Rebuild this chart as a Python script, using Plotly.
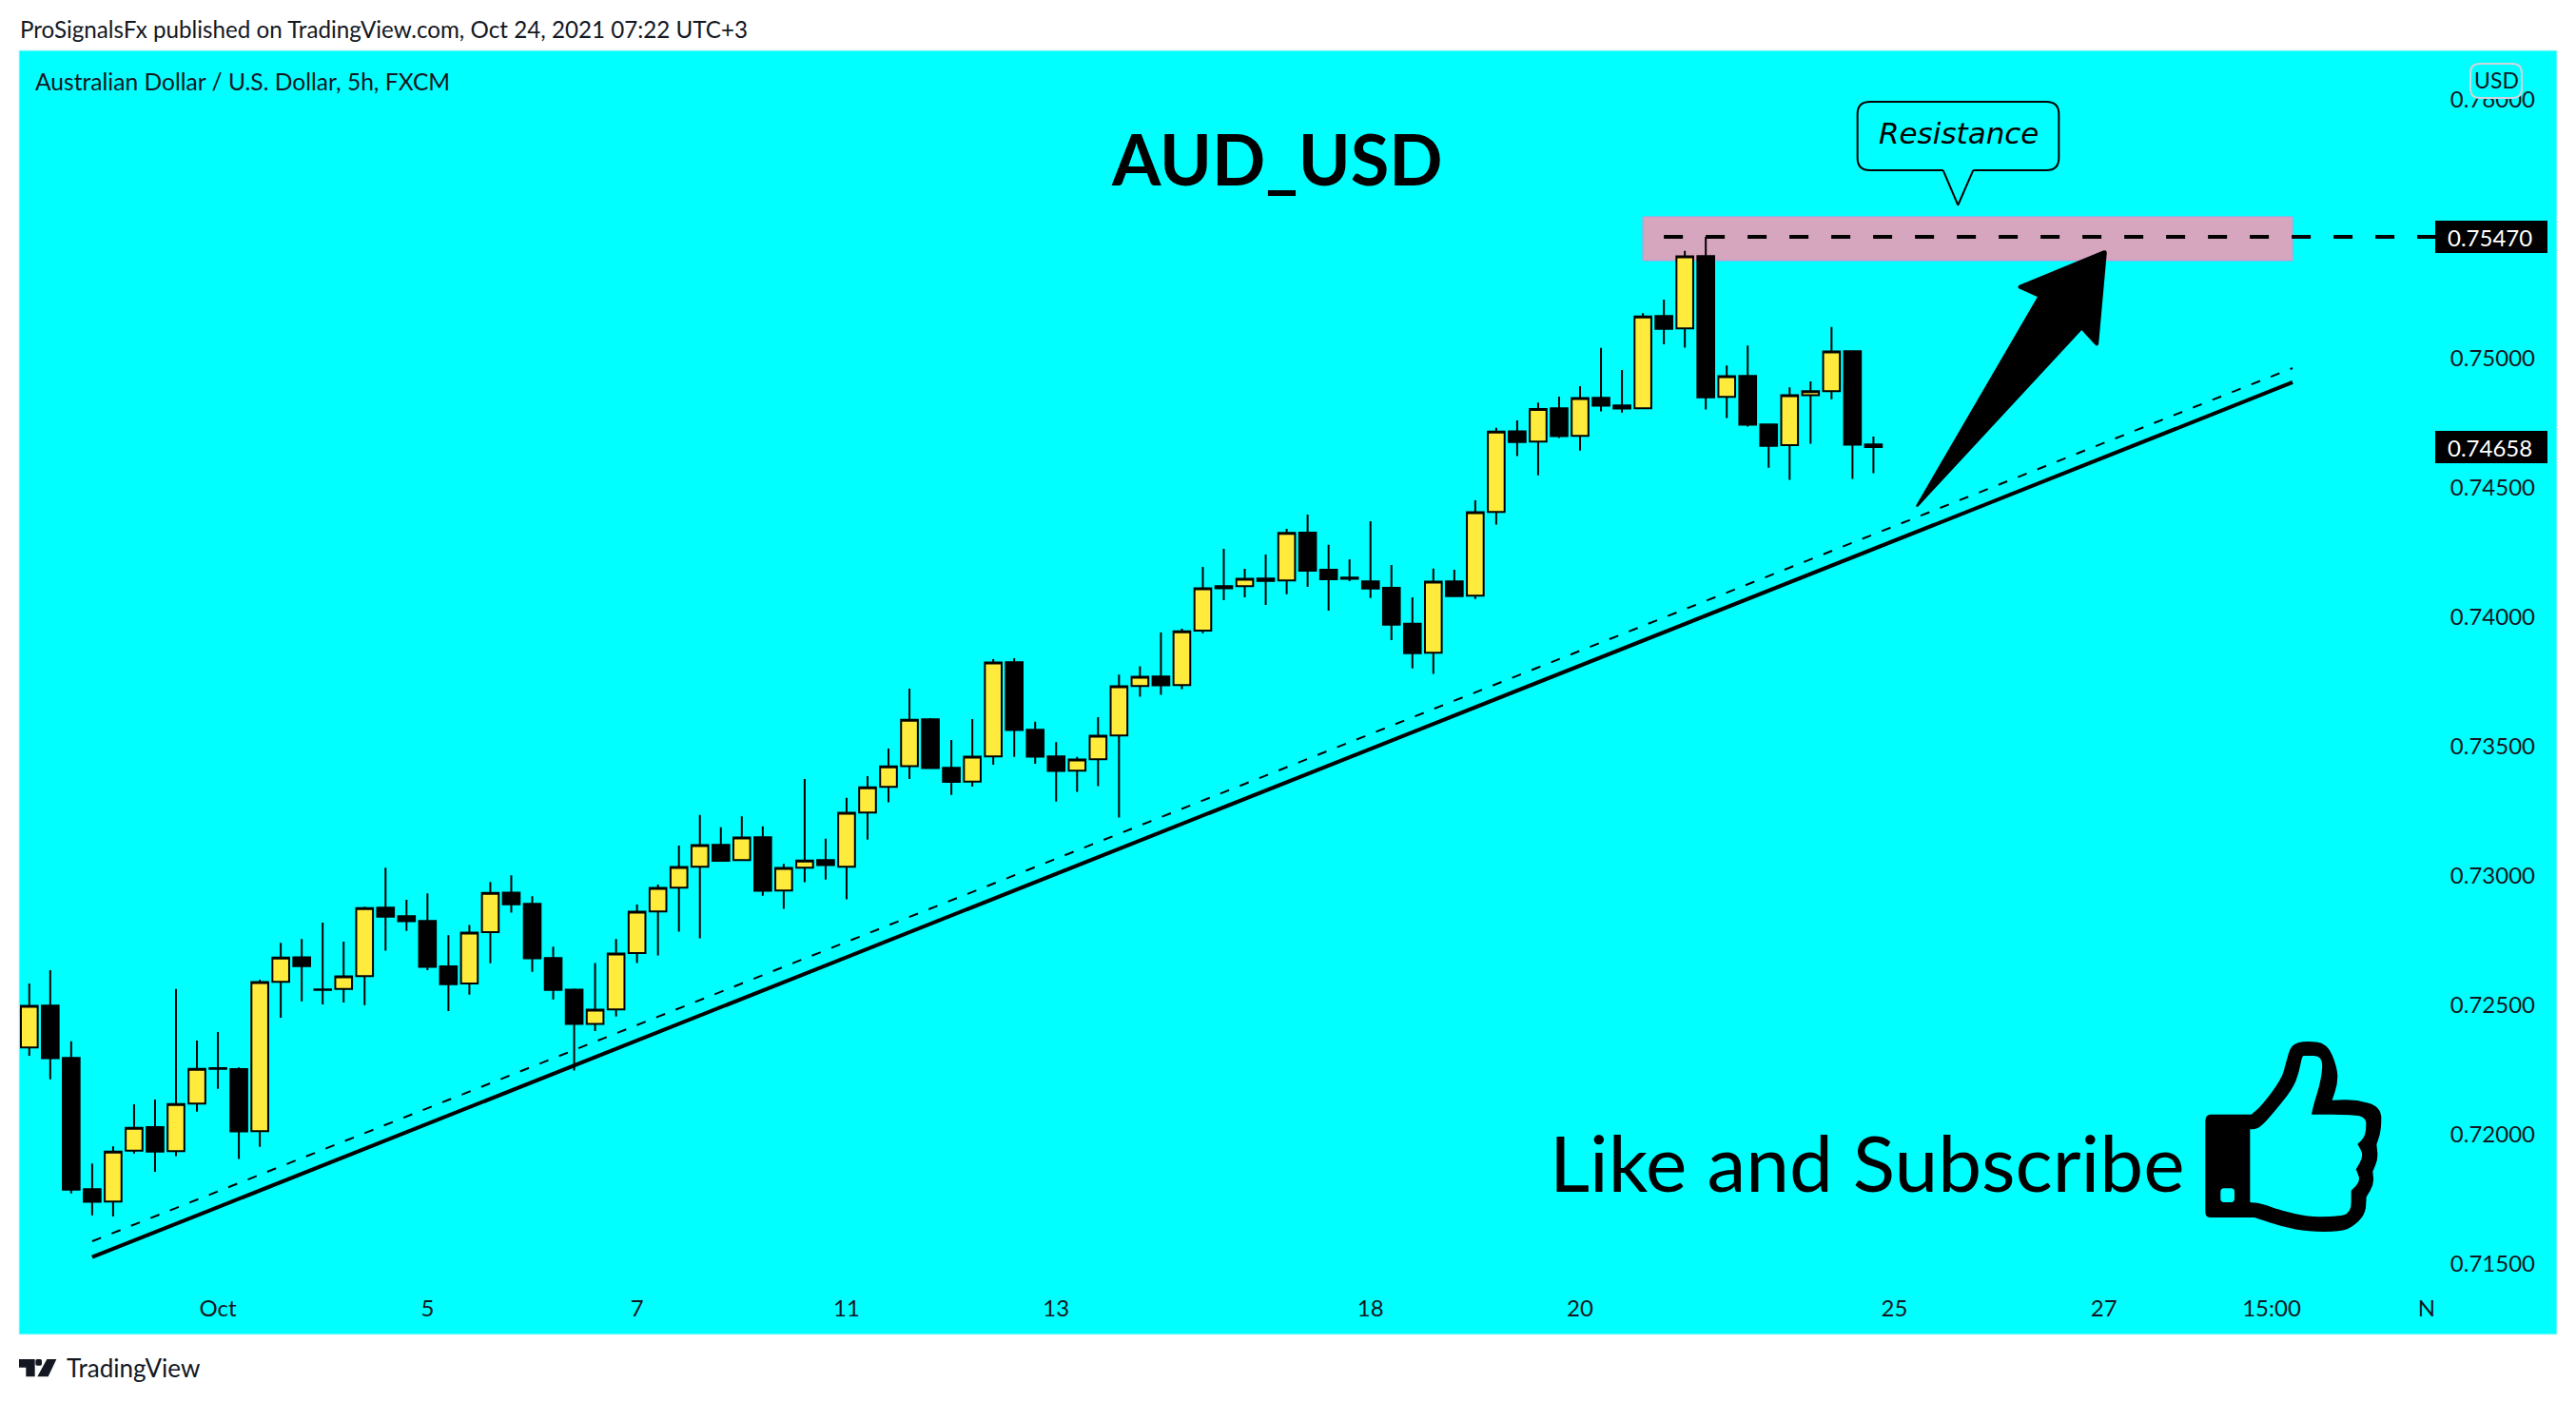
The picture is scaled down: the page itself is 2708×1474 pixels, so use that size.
import math
import plotly.graph_objects as go

# ---- chart data -------------------------------------------------------------
opens = [0.72337,0.72499,0.72297,0.7179,0.71742,0.71938,0.72029,0.71937,0.7212,0.72257,
         0.72254,0.72014,0.72591,0.72686,0.72562,0.72563,0.72613,0.72878,0.72845,0.72826,
         0.72651,0.72585,0.72783,0.72936,0.72892,0.72683,0.72561,0.72428,0.72484,0.72702,
         0.72863,0.72955,0.73036,0.7312,0.73062,0.7315,0.72944,0.73032,0.73062,0.73036,
         0.73245,0.73345,0.73425,0.73606,0.73418,0.73365,0.73462,0.73826,0.73565,0.73462,
         0.73407,0.73451,0.73543,0.73734,0.73771,0.73738,0.73948,0.7412,0.7412,0.7415,
         0.74142,0.74327,0.74184,0.74153,0.74139,0.74114,0.73975,0.73863,0.74139,0.74084,
         0.74407,0.74719,0.74679,0.74808,0.74701,0.74848,0.74819,0.74808,0.75164,0.75117,
         0.75396,0.74852,0.74933,0.74745,0.74665,0.74858,0.74874,0.75028,0.74668]
highs = [0.72585,0.72636,0.72361,0.71889,0.71955,0.72118,0.72136,0.72563,0.72364,0.72397,
         0.7226,0.72599,0.72742,0.72756,0.7282,0.72746,0.72881,0.73032,0.72908,0.72933,
         0.72771,0.72811,0.72977,0.73003,0.72922,0.72727,0.72565,0.72664,0.72756,0.7289,
         0.72967,0.73118,0.73236,0.73188,0.73231,0.73192,0.73047,0.73375,0.73144,0.73302,
         0.73386,0.73493,0.73724,0.7361,0.73526,0.73607,0.73838,0.73842,0.73596,0.73517,
         0.7346,0.73614,0.73778,0.73811,0.73941,0.73956,0.74195,0.74265,0.74187,0.74243,
         0.74342,0.74397,0.7428,0.74224,0.74371,0.74202,0.74077,0.74188,0.74184,0.74452,
         0.74732,0.74761,0.7483,0.74853,0.74893,0.75041,0.74956,0.75175,0.75228,0.75416,
         0.7547,0.74973,0.7505,0.74745,0.74889,0.74912,0.75122,0.75032,0.74698]
lows = [0.72305,0.72214,0.71773,0.71688,0.71684,0.71927,0.71857,0.71917,0.72089,0.72177,
        0.71906,0.71953,0.72452,0.72516,0.72504,0.72511,0.72501,0.72711,0.72788,0.72636,
        0.72478,0.72541,0.72663,0.72858,0.7263,0.72523,0.72248,0.72401,0.72457,0.72664,
        0.72693,0.72785,0.72759,0.73058,0.7306,0.72924,0.72873,0.72976,0.72986,0.7291,
        0.73141,0.73285,0.73375,0.73416,0.73313,0.73346,0.7343,0.7346,0.73434,0.73288,
        0.73325,0.73347,0.73226,0.73693,0.737,0.73722,0.73938,0.74066,0.74077,0.74048,
        0.74089,0.74118,0.74026,0.7414,0.74074,0.73912,0.73802,0.73781,0.74079,0.74071,
        0.74358,0.74623,0.74549,0.74693,0.74644,0.74796,0.74791,0.74807,0.75055,0.75042,
        0.74803,0.7477,0.74737,0.74578,0.74531,0.74671,0.74843,0.74535,0.74557]
closes = [0.72498,0.72296,0.71788,0.71741,0.71935,0.72027,0.71935,0.72119,0.72255,0.72255,
          0.72013,0.7259,0.72685,0.72652,0.7256,0.72612,0.72876,0.72843,0.72825,0.72649,
          0.72582,0.72781,0.72935,0.72891,0.72682,0.7256,0.72428,0.72483,0.727,0.72862,
          0.72954,0.73035,0.73119,0.73059,0.73149,0.72943,0.73031,0.7306,0.73042,0.73244,
          0.73343,0.73424,0.73604,0.73417,0.73364,0.73461,0.73825,0.73564,0.73461,0.73406,
          0.7345,0.73542,0.73733,0.7377,0.73737,0.73946,0.74112,0.74112,0.74149,0.74141,
          0.74326,0.7418,0.74147,0.74149,0.74111,0.73971,0.73861,0.74138,0.74082,0.74406,
          0.74718,0.74677,0.74805,0.747,0.74847,0.74818,0.74807,0.75163,0.75115,0.75395,
          0.7485,0.74932,0.74744,0.74663,0.74858,0.74874,0.75027,0.74667,0.74658]
candle_index = list(range(len(opens)))

price_ticks = [0.76,0.75,0.745,0.74,0.735,0.73,0.725,0.72,0.715]
time_tick_pos = [9,19,29,39,49,64,74,89,99,107,114.4]
time_tick_text = ["Oct","5","7","11","13","18","20","25","27","15:00","N"]

resistance_level = 0.7547
last_price = 0.74658
zone_top, zone_bottom = 0.755478, 0.753787
zone_start, zone_end = 77.0, 108.0
trend_solid = [(3.0,0.715268),(108.0,0.749081)]
trend_dashed = [(3.0,0.715882),(108.0,0.749632)]
level_start, level_end = 78.0, 115.0

W, H = 2708, 1474
X_LEFT, X_RIGHT = -0.49, 119.71
Y_LOW, Y_HIGH = 0.71228, 0.76191
INK = "#131722"
SMALL = "Lato"
BIG = "Lato"

def px(x): return x / W
def py(y): return 1 - y / H
def P(p): return f"{px(p[0]):.5f},{py(p[1]):.5f}"

def smooth(points):
    """closed path through midpoints, quadratic corners; repeated point = sharp"""
    n = len(points)
    mid = lambda a, b: ((a[0]+b[0])/2, (a[1]+b[1])/2)
    st = mid(points[-1], points[0])
    s = "M" + P(st)
    for i in range(n):
        e = mid(points[i], points[(i+1) % n])
        s += f" Q{P(points[i])} {P(e)}"
    return s + " Z"

def rounded(verts):
    """closed polygon; verts are (x, y, corner radius)"""
    n = len(verts); s = ""
    for i, (x, y, r) in enumerate(verts):
        ax, ay, _ = verts[i-1]; bx, by, _ = verts[(i+1) % n]
        la = math.hypot(ax-x, ay-y); lb = math.hypot(bx-x, by-y)
        p1 = (x+(ax-x)*r/la, y+(ay-y)*r/la); p2 = (x+(bx-x)*r/lb, y+(by-y)*r/lb)
        s += ("M" if i == 0 else " L") + P(p1) + f" Q{P((x,y))} {P(p2)}"
    return s + " Z"

fig = go.Figure(go.Candlestick(
    x=candle_index, open=opens, high=highs, low=lows, close=closes,
    increasing=dict(fillcolor="#FFEB3B", line=dict(color="#000000", width=2)),
    decreasing=dict(fillcolor="#000000", line=dict(color="#000000", width=2)),
    whiskerwidth=0, hoverinfo="skip", showlegend=False,
))

shapes = []
# panel
shapes.append(dict(type="rect", xref="paper", yref="paper", x0=px(20), x1=px(2688), y0=py(1403), y1=py(53),
                   fillcolor="#00FFFF", line=dict(color="#CFF3F6", width=1), layer="below"))
# resistance zone
shapes.append(dict(type="rect", xref="x", yref="y", x0=zone_start, x1=zone_end, y0=zone_bottom, y1=zone_top,
                   fillcolor="#D6A6BE", line=dict(color="#CE93D8", width=1), layer="below"))
# trend lines
shapes.append(dict(type="line", xref="x", yref="y", x0=trend_solid[0][0], y0=trend_solid[0][1],
                   x1=trend_solid[1][0], y1=trend_solid[1][1], line=dict(color="#000", width=4)))
shapes.append(dict(type="line", xref="x", yref="y", x0=trend_dashed[0][0], y0=trend_dashed[0][1],
                   x1=trend_dashed[1][0], y1=trend_dashed[1][1], line=dict(color="#000", width=2, dash="10px,12px")))
# resistance level line
shapes.append(dict(type="line", xref="x", yref="y", x0=level_start, x1=level_end, y0=resistance_level, y1=resistance_level,
                   line=dict(color="#000", width=4, dash="20px,24px")))
# price flags
for p in (resistance_level, last_price):
    shapes.append(dict(type="rect", xref="paper", yref="y", ysizemode="pixel", yanchor=p, y0=-17, y1=17,
                       x0=px(2560), x1=px(2678), fillcolor="#000", line=dict(width=0)))
# USD tag
shapes.append(dict(type="path", xref="paper", yref="paper",
                   path=rounded([(2597,67,10),(2651,67,10),(2651,103,10),(2597,103,10)]),
                   fillcolor="#00FFFF", line=dict(color="#D1D4DC", width=2)))
# arrow
az = lambda a, b, r=0: (1940 + a / 3, 95 + b / 3, r)
arrow = [az(222,1316,4), az(610,650,1), az(543,620,3), az(822,505,3), az(795,806,3), az(745,752,1)]
shapes.append(dict(type="path", xref="paper", yref="paper", path=rounded(arrow), fillcolor="#000",
                   line=dict(color="#000", width=2)))
# callout
callout = [az(38,36,13), az(673,36,13), az(673,252,13), az(403,252,1), az(355,362,1), az(308,252,1), az(38,252,13)]
shapes.append(dict(type="path", xref="paper", yref="paper", path=rounded(callout), fillcolor="rgba(0,0,0,0)",
                   line=dict(color="#000", width=2)))
# thumb
tz = lambda a, b: (2250 + a / 3, 1060 + b / 3)
outer = [(205,375),(205,335),(240,335),(350,335),(350,335),(380,310),(445,225),(460,170),(475,115),(520,103),(590,110),(622,190),
         (622,240),(605,290),(605,290),(680,288),(760,310),(760,385),(745,430),(745,430),(750,475),(733,515),(733,515),(737,555),
         (713,595),(713,595),(710,650),(670,690),(630,705),(530,705),(450,690),(360,660),(360,660),(240,660),(205,660),(205,625)]
inner = [(346,382),(346,382),(375,380),(420,330),(480,255),(500,205),(510,150),(520,150),(575,150),(572,220),(545,310),(540,335),(540,335),
         (670,335),(712,345),(712,385),(705,410),(685,428),(685,428),(705,465),(680,508),(680,508),(695,545),(665,575),(665,575),
         (665,650),(600,658),(530,658),(450,640),(380,615),(346,612),(346,612)]
dot = [(253,590),(253,568),(275,568),(297,568),(297,590),(297,612),(275,612),(253,612)]
path = " ".join(smooth([tz(*p) for p in ring]) for ring in (outer, inner, dot))
shapes.append(dict(type="path", xref="paper", yref="paper", path=path, fillcolor="#000", line=dict(width=0)))
# TradingView logo
lz = lambda a, b: (a / 3, 1415 + b / 3)
logo = [lz(60,42),lz(110,42),lz(110,97),lz(82,97),lz(82,68),lz(60,68)]
slash = [lz(148,42),lz(178,42),lz(152,97),lz(118,97)]
ldot = [lz(112,52),lz(112,42),lz(122,42),lz(132,42),lz(132,52),lz(132,62),lz(122,62),lz(112,62)]
closed = lambda pts: "M" + " L".join(P(p) for p in pts) + " Z"
shapes.append(dict(type="path", xref="paper", yref="paper",
                   path=closed(logo)+" "+closed(slash)+" "+smooth(ldot), fillcolor=INK, line=dict(width=0)))

def text(t, x, y, size, font=SMALL, color=INK, anchor="left", **kw):
    return dict(text=t, xref="paper", yref="paper", x=px(x), y=py(y), xanchor=anchor, yanchor="middle",
                showarrow=False, font=dict(family=font, size=size, color=color), **kw)

ann = [
    text("ProSignalsFx published on TradingView.com, Oct 24, 2021 07:22 UTC+3", 19, 30, 24.2),
    text("Australian Dollar / U.S. Dollar, 5h, FXCM", 35, 85, 24.6),
    text("TradingView", 68, 1438, 26),
    text("USD", 2624, 84, 23, anchor="center"),
    text("<b>AUD_USD</b>", 1342, 167, 74, font=BIG, color="#000", anchor="center"),
    text("Like and Subscribe", 1627, 1221, 82, font=BIG, color="#000"),
    text("<i>Resistance</i>", 2059, 140, 31, font="DejaVu Sans", color="#000", anchor="center"),
]
for p in (resistance_level, last_price):
    ann.append(dict(text=f"{p:.5f}", xref="paper", yref="y", x=px(2664), y=p, xanchor="right", yanchor="middle",
                    showarrow=False, font=dict(family=SMALL, size=24, color="#FFFFFF")))

fig.update_layout(
    width=W, height=H, autosize=False, margin=dict(l=0, r=0, t=0, b=0, pad=0),
    paper_bgcolor="#FFFFFF", plot_bgcolor="rgba(0,0,0,0)", showlegend=False,
    boxgap=0.2, boxgroupgap=0, shapes=shapes, annotations=ann,
    xaxis=dict(domain=[px(20), px(2668)], range=[X_LEFT, X_RIGHT], rangeslider=dict(visible=False),
               tickmode="array", tickvals=time_tick_pos, ticktext=time_tick_text, showgrid=False, zeroline=False,
               showline=False, ticks="", ticklabelposition="inside", tickangle=0,
               tickfont=dict(family=SMALL, size=24, color=INK), ticklabelstandoff=11),
    yaxis=dict(domain=[py(1403), py(53)], range=[Y_LOW, Y_HIGH], side="right", tickmode="array", tickvals=price_ticks,
               tickformat=".5f", showgrid=False, zeroline=False, showline=False, ticks="", ticklabelposition="inside",
               tickfont=dict(family=SMALL, size=24, color=INK)),
)
fig.write_html("out.html", config=dict(displayModeBar=False),
               post_script="document.body.style.margin='0';document.body.style.overflow='hidden';")
